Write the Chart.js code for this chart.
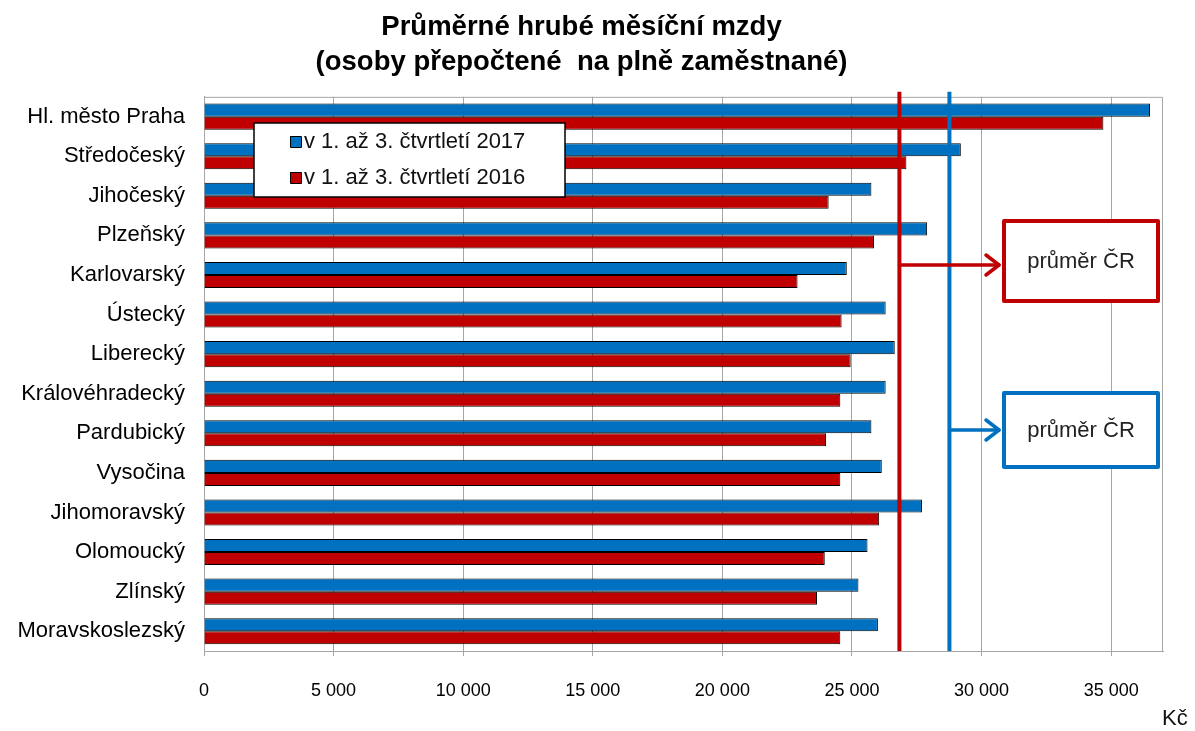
<!DOCTYPE html>
<html>
<head>
<meta charset="utf-8">
<script src="https://cdn.jsdelivr.net/npm/chart.js@4/dist/chart.umd.min.js"></script>
<style>
  html, body { margin: 0; padding: 0; background: #fff; }
  #wrap { width: 1195px; height: 731px; }
</style>
</head>
<body>
<div id="wrap"><canvas id="chart"></canvas></div>
<script>
// regions (top to bottom as in the picture)
const regions = ['Hl. město Praha', 'Středočeský', 'Jihočeský', 'Plzeňský', 'Karlovarský', 'Ústecký', 'Liberecký',
  'Královéhradecký', 'Pardubický', 'Vysočina', 'Jihomoravský', 'Olomoucký', 'Zlínský', 'Moravskoslezský'];

// average gross monthly wage, Kč
const wages2017 = [36500, 29200, 25750, 27900, 24800, 26300, 26650, 26300, 25750, 26150, 27700, 25600, 25250, 26000];
const wages2016 = [34700, 27100, 24100, 25850, 22900, 24600, 24950, 24550, 24000, 24550, 26050, 23950, 23650, 24550];

// Czech Republic averages (vertical lines)
const avgCR2017 = 28760;
const avgCR2016 = 26830;

const xTicks = [0, 5000, 10000, 15000, 20000, 25000, 30000, 35000];
const xMax = 37000;

const seriesNames = ['v 1. až 3. čtvrtletí 2017', 'v 1. až 3. čtvrtletí 2016'];
const BLUE = '#0070C0';
const RED = '#C00000';
const FONT = "'Liberation Sans', Arial, sans-serif";

function fmt(v) {
  return String(v).replace(/\B(?=(\d{3})+(?!\d))/g, '\u00a0');
}

// plot frame, average lines, legend, callouts
const extras = {
  id: 'extras',
  beforeDatasetsDraw(chart) {
    const { ctx, chartArea: a } = chart;
    ctx.save();
    ctx.strokeStyle = '#a6a6a6';
    ctx.lineWidth = 1;
    ctx.beginPath();
    ctx.moveTo(a.left, a.top + 0.5);
    ctx.lineTo(a.right - 0.5, a.top + 0.5);
    ctx.lineTo(a.right - 0.5, a.bottom);
    ctx.stroke();
    ctx.restore();
  },
  afterDatasetsDraw(chart) {
    const { ctx, chartArea: a, scales } = chart;
    const x = scales.x;
    const xr = x.getPixelForValue(avgCR2016);
    const xb = x.getPixelForValue(avgCR2017);

    ctx.save();
    // average lines
    ctx.lineWidth = 4;
    ctx.strokeStyle = RED;
    ctx.beginPath(); ctx.moveTo(xr, a.top - 5); ctx.lineTo(xr, a.bottom); ctx.stroke();
    ctx.strokeStyle = BLUE;
    ctx.beginPath(); ctx.moveTo(xb, a.top - 5); ctx.lineTo(xb, a.bottom); ctx.stroke();

    // callouts
    const boxL = 1004, boxW = 154;
    function callout(color, fromX, y, top, h) {
      ctx.strokeStyle = color;
      ctx.lineWidth = 3.5;
      ctx.lineCap = 'round';
      ctx.lineJoin = 'round';
      ctx.beginPath(); ctx.moveTo(fromX, y); ctx.lineTo(boxL - 5, y); ctx.stroke();
      ctx.beginPath(); ctx.moveTo(boxL - 18, y - 10); ctx.lineTo(boxL - 5, y); ctx.lineTo(boxL - 18, y + 10); ctx.stroke();
      ctx.lineWidth = 4;
      ctx.lineCap = 'butt';
      ctx.fillStyle = '#fff';
      ctx.fillRect(boxL, top, boxW, h);
      ctx.strokeRect(boxL, top, boxW, h);
      ctx.fillStyle = '#222';
      ctx.font = '22px ' + FONT;
      ctx.textAlign = 'center';
      ctx.textBaseline = 'middle';
      ctx.fillText('průměr ČR', boxL + boxW / 2, top + h / 2 + 1);
    }
    callout(RED, xr, 265, 221, 80);
    callout(BLUE, xb, 430, 393, 74);

    // legend
    ctx.fillStyle = '#fff';
    ctx.fillRect(254, 123, 311, 74);
    ctx.strokeStyle = '#000';
    ctx.lineWidth = 1.5;
    ctx.strokeRect(254, 123, 311, 74);
    const cols = [BLUE, RED];
    const ys = [141, 177];
    ctx.font = '22px ' + FONT;
    ctx.textAlign = 'left';
    ctx.textBaseline = 'middle';
    seriesNames.forEach((n, i) => {
      ctx.fillStyle = cols[i];
      ctx.fillRect(290, ys[i] - 5, 11, 11);
      ctx.lineWidth = 1;
      ctx.strokeRect(290.5, ys[i] - 4.5, 11, 11);
      ctx.fillStyle = '#111';
      ctx.fillText(n, 304, ys[i] + 1);
    });

    // unit
    ctx.font = '22px ' + FONT;
    ctx.fillText('Kč', 1162, 719);
    ctx.restore();
  }
};

new Chart(document.getElementById('chart'), {
  type: 'bar',
  data: {
    labels: regions,
    datasets: [
      { label: seriesNames[0], data: wages2017, backgroundColor: BLUE, borderColor: '#000', borderWidth: 1,
        categoryPercentage: 0.66, barPercentage: 1.0 },
      { label: seriesNames[1], data: wages2016, backgroundColor: RED, borderColor: '#000', borderWidth: 1,
        categoryPercentage: 0.66, barPercentage: 1.0 }
    ]
  },
  options: {
    indexAxis: 'y',
    responsive: true,
    maintainAspectRatio: false,
    animation: false,
    layout: { padding: { left: 0, right: 32, top: 0, bottom: 0 } },
    plugins: {
      legend: { display: false },
      tooltip: { enabled: false },
      title: {
        display: true,
        text: ['Průměrné hrubé měsíční mzdy', '(osoby přepočtené  na plně zaměstnané)'],
        color: '#000',
        font: { family: FONT, size: 27.5, weight: 'bold', lineHeight: 1.27 },
        padding: { top: 10, bottom: 17 }
      }
    },
    scales: {
      x: {
        min: 0,
        max: xMax,
        afterBuildTicks(s) { s.ticks = xTicks.map(v => ({ value: v })); },
        afterFit(s) { s.height = 80; },
        grid: { color: '#a6a6a6', tickLength: 5, drawOnChartArea: true },
        border: { color: '#a6a6a6' },
        ticks: {
          callback: v => fmt(v),
          color: '#000',
          padding: 24,
          maxRotation: 0,
          font: { family: FONT, size: 18 }
        }
      },
      y: {
        afterFit(s) { s.width = 204; },
        grid: { display: false },
        border: { color: '#a6a6a6' },
        ticks: {
          color: '#000',
          padding: 11,
          font: { family: FONT, size: 22 }
        }
      }
    }
  },
  plugins: [extras]
});
</script>
</body>
</html>
